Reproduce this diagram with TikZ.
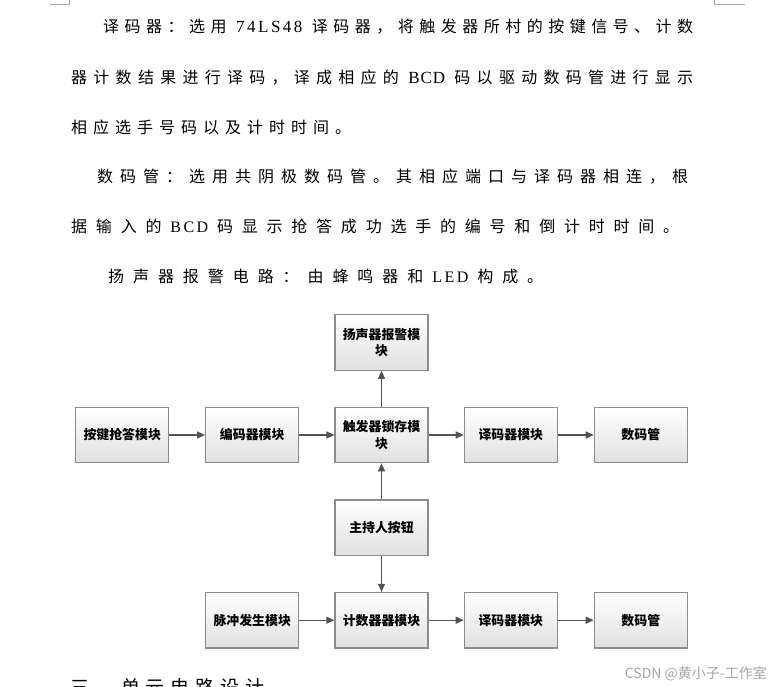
\documentclass[tikz,border=0pt]{standalone}
\usepackage{fontspec}
\setmainfont{Liberation Serif}
\newfontfamily\cjk{Noto Sans CJK SC}
\newfontfamily\latin{Liberation Serif}
\usetikzlibrary{arrows.meta}
\def\spendm{\spend}
\def\spread#1{\spfirst#1\spend}
\def\spfirst#1{{#1}\spx}
\def\spx#1{\def\sptmp{#1}\ifx\sptmp\spendm\else\hfil{#1}\expandafter\spx\fi}
\tikzset{
  body/.style={anchor=base west, inner sep=0pt, font=\cjk\fontsize{16}{16}\selectfont},
  blk/.style={draw=black!45, line width=1.2pt, minimum width=93pt, minimum height=55.5pt,
    top color=white, bottom color=black!12, text width=80pt, align=center, inner sep=0pt,
    font=\cjk\bfseries\fontsize{12.9}{16.7}\selectfont},
  arr/.style={draw=black!68, line width=1.2pt, -{Triangle[length=8pt,width=7pt]}},
  corner/.style={draw=black!35, line width=0.8pt}
}
\begin{document}
\begin{tikzpicture}[x=1pt,y=-1pt]
\useasboundingbox (0,0) rectangle (774,687);
\fill[white] (0,0) rectangle (774,687);
\clip (0,0) rectangle (774,687);
% page corner marks
\coordinate (cl1) at (50,4); \coordinate (cl2) at (69,4); \coordinate (cl3) at (69,0);
\draw[corner] (cl1) -- (cl2) -- (cl3);
\coordinate (cr1) at (714,0); \coordinate (cr2) at (714,4); \coordinate (cr3) at (745,4);
\draw[corner] (cr1) -- (cr2) -- (cr3);
% body text
\node[body] (l1) at (103,33) {\hbox to 590pt{\spread{译码器：选用{\kern4pt\latin\fontsize{17}{17}\selectfont 7\kern2.5pt 4\kern2.5pt L\kern2.5pt S\kern2.5pt 4\kern2.5pt 8\kern4pt}译码器，将触发器所村的按键信号、计数}}};
\node[body] (l2) at (71,84) {\hbox to 622pt{\spread{器计数结果进行译码，译成相应的{\kern3pt\latin\fontsize{17}{17}\selectfont B\kern1pt C\kern1pt D\kern3pt}码以驱动数码管进行显示}}};
\node[body] (l3) at (71,134) {\hbox to 280pt{\spread{相应选手号码以及计时时间。}}};
\node[body] (l4) at (97,183) {\hbox to 591pt{\spread{数码管：选用共阴极数码管。其相应端口与译码器相连，根}}};
\node[body] (l5) at (71,233) {\hbox to 608pt{\spread{据输入的{\latin B\kern2.5pt C\kern2.5pt D}码显示抢答成功选手的编号和倒计时时间。}}};
\node[body] (l6) at (108,283) {\hbox to 435pt{\spread{扬声器报警电路：由蜂鸣器和{\latin L\kern2.5pt E\kern2.5pt D}构成。}}};
% diagram
\node[blk] (top)  at (381.5,342.5) {扬声器报警模\\块};
\node[blk] (b1)   at (122.2,435) {按键抢答模块};
\node[blk] (b2)   at (252.2,435) {编码器模块};
\node[blk] (b3)   at (381.5,435) {触发器锁存模\\块};
\node[blk] (b4)   at (510.8,435) {译码器模块};
\node[blk] (b5)   at (640.8,435) {数码管};
\node[blk] (host) at (381.5,527.8) {主持人按钮};
\node[blk] (p)    at (252.2,620.2) {脉冲发生模块};
\node[blk] (c)    at (381.5,620.2) {计数器器模块};
\node[blk] (d2)   at (510.8,620.2) {译码器模块};
\node[blk] (s2)   at (640.8,620.2) {数码管};
\draw[arr] (b1) -- (b2);
\draw[arr] (b2) -- (b3);
\draw[arr] (b3) -- (b4);
\draw[arr] (b4) -- (b5);
\draw[arr] (b3) -- (top);
\draw[arr] (host) -- (b3);
\draw[arr] (host) -- (c);
\draw[arr] (p) -- (c);
\draw[arr] (c) -- (d2);
\draw[arr] (d2) -- (s2);
% heading (cut off at the page edge, as in the reference)
\node[anchor=base west, inner sep=0pt, font=\cjk\fontsize{19}{19}\selectfont] (h1) at (70,694) {三、};
\node[anchor=base west, inner sep=0pt, font=\cjk\fontsize{19}{19}\selectfont] (h2) at (121,694) {\hbox to 143pt{\spread{单元电路设计}}};
% watermark
\node[anchor=east, inner sep=0pt, text=black!35, font=\cjk\fontsize{14}{14}\selectfont] (wm) at (767,674) {CSDN @黄小子-工作室};
\end{tikzpicture}
\end{document}
